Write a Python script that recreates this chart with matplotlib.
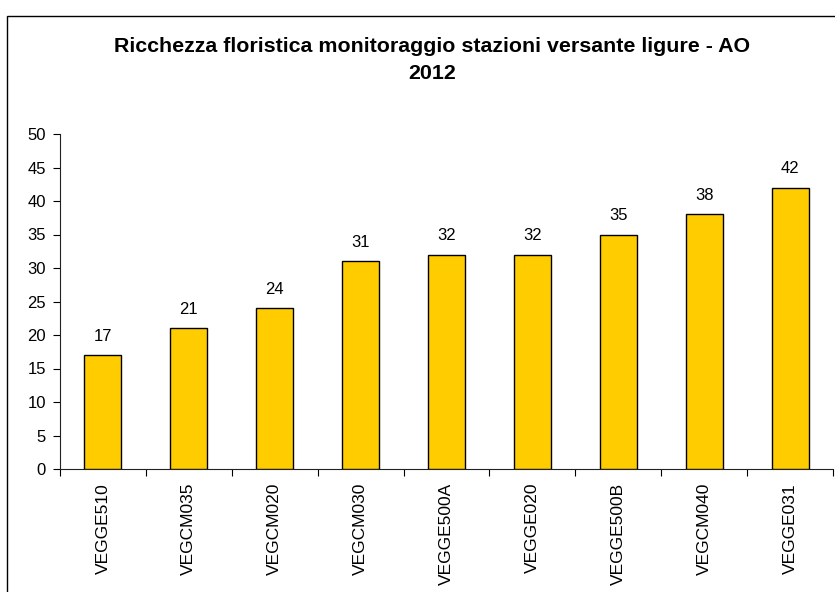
import matplotlib
matplotlib.use("Agg")
import matplotlib.pyplot as plt
from matplotlib.patches import Rectangle

categories = ["VEGGE510", "VEGCM035", "VEGCM020", "VEGCM030", "VEGGE500A",
              "VEGGE020", "VEGGE500B", "VEGCM040", "VEGGE031"]
values = [17, 21, 24, 31, 32, 32, 35, 38, 42]
title = "Ricchezza floristica monitoraggio stazioni versante ligure - AO\n2012"

plt.rcParams['font.family'] = ['Liberation Sans', 'DejaVu Sans']

W, H = 835, 592
fig = plt.figure(figsize=(W / 100, H / 100), dpi=100)

# outer chart frame (right/bottom cut off)
fig.patches.append(Rectangle((7 / W, -0.1), 1.2, (H - 16) / H + 0.1, transform=fig.transFigure,
                             fill=False, edgecolor='black', linewidth=1.0))

left, right, bottom, top = 60, 833, 469, 134
ax = fig.add_axes([left / W, 1 - bottom / H, (right - left) / W, (bottom - top) / H])

x = list(range(len(categories)))
ax.bar(x, values, width=0.43, color='#FFCC00', edgecolor='black', linewidth=1.0, zorder=3)

ax.set_xlim(-0.5, len(categories) - 0.5)
ax.set_ylim(0, 50)
ax.set_yticks(range(0, 51, 5))
ax.tick_params(axis='y', direction='out', length=5, width=0.8, labelsize=12, pad=5)

# category labels between boundary ticks
ax.set_xticks([i - 0.5 for i in range(len(categories) + 1)])
ax.set_xticklabels([])
ax.set_xticks(x, minor=True)
ax.set_xticklabels(categories, minor=True, rotation=90, fontsize=12.5)
ax.tick_params(axis='x', which='major', direction='out', length=5, width=0.8)
ax.tick_params(axis='x', which='minor', length=0, pad=10)

for s in ['top', 'right']:
    ax.spines[s].set_visible(False)
for s in ['left', 'bottom']:
    ax.spines[s].set_linewidth(0.8)
    ax.spines[s].set_color('#222222')

for xi, v in zip(x, values):
    ax.annotate(str(v), (xi, v), xytext=(0, 8), textcoords='offset points',
                ha='center', va='bottom', fontsize=12)

fig.text(432 / W, 1 - 60 / H, title, ha='center', va='center', fontsize=15.4,
         fontweight='bold', linespacing=1.5)

fig.savefig("out.png", dpi=100)
